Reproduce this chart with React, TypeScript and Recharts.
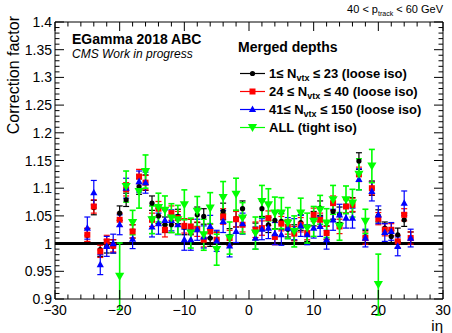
import React from "react";
import {
  ComposedChart,
  Scatter,
  XAxis,
  YAxis,
  ErrorBar,
  ReferenceLine,
} from "recharts";

const etaBins = [
  -25, -24, -23, -22, -21, -20, -19, -18, -17, -16, -15, -14, -13, -12, -11,
  -10, -9, -8, -7, -6, -5, -4, -3, -2, -1, 1, 2, 3, 4, 5, 6, 7, 8, 9, 10, 11,
  12, 13, 14, 15, 16, 17, 18, 19, 20, 21, 22, 23, 24, 25,
];
const tightBins = [
  -20, -19, -18, -17, -16, -15, -14, -13, -12, -11, -10, -9, -8, -7, -6, -5,
  -4, -3, -2, -1, 1, 2, 3, 4, 5, 6, 7, 8, 9, 10, 11, 12, 13, 14, 15, 16, 17,
  18, 19, 20,
];

// 1 <= Nvtx <= 23 (loose iso)
const lowPuValues = [
  1.015, 1.065, 0.989, 0.995, 0.995, 1.055, 1.079, 1.022, 1.103, 1.11, 1.073,
  1.05, 1.034, 1.034, 1.049, 1.03, 1.03, 1.052, 1.049, 1.01, 1.007, 1.058,
  1.012, 1.045, 1.063, 1.022, 1.063, 1.034, 1.042, 1.04, 1.026, 1.02, 1.038,
  1.017, 1.045, 1.064, 1.02, 1.058, 1.052, 1.068, 1.07, 1.149, 1.012, 1.1,
  1.05, 1.028, 1.013, 1.016, 1.043, 1.01,
];
const lowPuErrors = [
  0.012, 0.013, 0.012, 0.012, 0.012, 0.013, 0.012, 0.012, 0.014, 0.014, 0.013,
  0.014, 0.014, 0.014, 0.013, 0.014, 0.014, 0.014, 0.014, 0.015, 0.014, 0.015,
  0.015, 0.015, 0.014, 0.015, 0.014, 0.014, 0.015, 0.014, 0.014, 0.014, 0.014,
  0.013, 0.013, 0.013, 0.012, 0.014, 0.014, 0.013, 0.013, 0.015, 0.012, 0.013,
  0.011, 0.011, 0.011, 0.012, 0.012, 0.011,
];

// 24 <= Nvtx <= 40 (loose iso)
const midPuValues = [
  1.016, 1.067, 0.986, 1.004, 0.996, 1.043, 1.098, 1.022, 1.121, 1.11, 1.043,
  1.063, 1.025, 1.055, 1.046, 1.032, 1.031, 1.026, 1.007, 1.022, 1.007, 1.049,
  1.01, 1.044, 1.034, 1.025, 1.028, 1.046, 1.012, 1.036, 1.03, 1.018, 1.034,
  1.019, 1.052, 1.043, 1.019, 1.073, 1.031, 1.067, 1.07, 1.125, 1.01, 1.1,
  1.045, 1.025, 1.025, 1.004, 1.052, 1.01,
];
const midPuErrors = [
  0.012, 0.012, 0.011, 0.011, 0.011, 0.012, 0.012, 0.012, 0.013, 0.013, 0.012,
  0.013, 0.013, 0.013, 0.012, 0.013, 0.013, 0.013, 0.013, 0.013, 0.013, 0.014,
  0.014, 0.014, 0.013, 0.014, 0.013, 0.013, 0.014, 0.013, 0.013, 0.013, 0.013,
  0.012, 0.012, 0.012, 0.012, 0.013, 0.013, 0.012, 0.012, 0.013, 0.011, 0.012,
  0.011, 0.011, 0.011, 0.011, 0.011, 0.011,
];

// 41 <= Nvtx <= 150 (loose iso)
const highPuValues = [
  1.028, 1.092, 0.962, 0.995, 1.0, 1.034, 1.1, 1.008, 1.112, 1.11, 1.03, 1.036,
  1.042, 1.042, 1.034, 1.007, 1.007, 1.025, 1.012, 1.031, 1.005, 1.04, 0.996,
  1.022, 1.036, 1.01, 1.026, 1.028, 1.018, 1.016, 1.028, 1.026, 1.032, 1.016,
  1.028, 1.031, 1.007, 1.043, 1.052, 1.046, 1.046, 1.116, 1.01, 1.094, 1.052,
  1.02, 1.022, 0.995, 1.073, 1.01,
];
const highPuErrors = [
  0.02, 0.022, 0.018, 0.018, 0.017, 0.018, 0.018, 0.017, 0.019, 0.019, 0.018,
  0.019, 0.019, 0.019, 0.018, 0.019, 0.019, 0.019, 0.02, 0.02, 0.019, 0.02,
  0.02, 0.02, 0.019, 0.02, 0.019, 0.019, 0.02, 0.019, 0.019, 0.019, 0.019,
  0.018, 0.018, 0.018, 0.017, 0.019, 0.019, 0.018, 0.018, 0.019, 0.016, 0.017,
  0.016, 0.016, 0.016, 0.017, 0.022, 0.016,
];

// ALL (tight iso)
const tightValues = [
  0.941, 1.103, 1.038, 1.094, 1.13, 1.043, 1.065, 1.06, 1.046, 1.043, 1.07,
  1.019, 1.058, 1.016, 1.064, 0.989, 1.083, 1.01, 1.089, 1.046, 1.019, 1.076,
  1.07, 1.055, 1.055, 1.037, 1.022, 1.055, 1.028, 1.04, 1.061, 1.037, 1.079,
  1.031, 1.079, 1.073, 1.125, 1.04, 1.14, 0.926,
];
const tightErrors = [
  0.06, 0.028, 0.022, 0.03, 0.03, 0.025, 0.026, 0.026, 0.026, 0.026, 0.027,
  0.027, 0.027, 0.028, 0.028, 0.028, 0.029, 0.029, 0.029, 0.028, 0.029, 0.029,
  0.029, 0.029, 0.028, 0.028, 0.028, 0.027, 0.027, 0.027, 0.026, 0.026, 0.026,
  0.025, 0.025, 0.025, 0.028, 0.022, 0.03, 0.055,
];

const xMajorTicks = [-30, -20, -10, 0, 10, 20, 30];
const yMajorTicks = [0.9, 0.95, 1, 1.05, 1.1, 1.15, 1.2, 1.25, 1.3, 1.35, 1.4];

const xTicks: number[] = [];
for (let v = -30; v <= 30; v += 2) xTicks.push(v);
const yTicks: number[] = [];
for (let i = 90; i <= 140; i++) yTicks.push(i / 100);

const font = "'Liberation Sans', Arial, sans-serif";

const toPoints = (bins: number[], vals: number[], errs: number[]) =>
  bins.map((x, i) => ({ x, y: vals[i], err: errs[i] }));

const lowPu = toPoints(etaBins, lowPuValues, lowPuErrors);
const midPu = toPoints(etaBins, midPuValues, midPuErrors);
const highPu = toPoints(etaBins, highPuValues, highPuErrors);
const tight = toPoints(tightBins, tightValues, tightErrors);

const fmt = (v: number) => {
  const s = String(Math.round(v * 100) / 100);
  return s.startsWith("-") ? "\u2212" + s.slice(1) : s;
};
const isMajorY = (v: number) =>
  yMajorTicks.some((m) => Math.abs(m - v) < 1e-6);

const Circle = (p: any) => <circle cx={p.cx} cy={p.cy} r={2.6} fill="#000" />;
const Square = (p: any) => (
  <rect x={p.cx - 3} y={p.cy - 3} width={6} height={6} fill="#ff0000" />
);
const TriUp = (p: any) => (
  <path
    d={`M${p.cx},${p.cy - 4}L${p.cx + 3.6},${p.cy + 2.6}L${p.cx - 3.6},${p.cy + 2.6}Z`}
    fill="#0000ff"
  />
);
const TriDown = (p: any) => (
  <path
    d={`M${p.cx},${p.cy + 4.5}L${p.cx + 4.6},${p.cy - 3.6}L${p.cx - 4.6},${p.cy - 3.6}Z`}
    fill="#00ff00"
  />
);

function BottomTick({ x, y, payload }: any) {
  const major = xMajorTicks.includes(payload.value);
  return (
    <g>
      <line x1={x} x2={x} y1={y} y2={y - (major ? 9 : 4.5)} stroke="#000" />
      {major && (
        <text x={x} y={y + 16} textAnchor="middle" fontSize={14} fontFamily={font} fill="#000">
          {fmt(payload.value)}
        </text>
      )}
    </g>
  );
}

function TopTick({ x, y, payload }: any) {
  const major = xMajorTicks.includes(payload.value);
  return <line x1={x} x2={x} y1={y} y2={y + (major ? 9 : 4.5)} stroke="#000" />;
}

function LeftTick({ x, y, payload }: any) {
  const major = isMajorY(payload.value);
  return (
    <g>
      <line x1={x} x2={x + (major ? 9 : 4.5)} y1={y} y2={y} stroke="#000" />
      {major && (
        <text x={x - 3} y={y + 5} textAnchor="end" fontSize={14} fontFamily={font} fill="#000">
          {fmt(payload.value)}
        </text>
      )}
    </g>
  );
}

function RightTick({ x, y, payload }: any) {
  const major = isMajorY(payload.value);
  return <line x1={x} x2={x - (major ? 9 : 4.5)} y1={y} y2={y} stroke="#000" />;
}

function LegendRow({ y, color, marker, children }: any) {
  return (
    <g>
      <line x1={240} x2={265} y1={y - 4.5} y2={y - 4.5} stroke={color} strokeWidth={1.2} />
      {marker({ cx: 252.5, cy: y - 4.5 })}
      <text x={269} y={y} fontSize={13} fontWeight="bold" fontFamily={font} fill="#000">
        {children}
      </text>
    </g>
  );
}

const Sub = ({ children }: any) => (
  <>
    <tspan fontSize={9} dy={3}>{children}</tspan>
    <tspan dy={-3}> </tspan>
  </>
);

export default function App() {
  return (
    <div style={{ position: "absolute", left: 0, top: 0, width: 452, height: 333, background: "#fff" }}>
      <ComposedChart width={452} height={333} margin={{ top: 0, right: 0, bottom: 0, left: 0 }}>
        <XAxis
          dataKey="x"
          type="number"
          domain={[-30, 30]}
          ticks={xTicks}
          interval={0}
          tickSize={0}
          tickMargin={0}
          height={34}
          axisLine={{ stroke: "#000" }}
          tick={<BottomTick />}
          allowDataOverflow
        />
        <XAxis
          xAxisId="top"
          dataKey="x"
          type="number"
          orientation="top"
          domain={[-30, 30]}
          ticks={xTicks}
          interval={0}
          tickSize={0}
          tickMargin={0}
          height={22}
          axisLine={{ stroke: "#000" }}
          tick={<TopTick />}
          allowDataOverflow
        />
        <YAxis
          dataKey="y"
          type="number"
          domain={[0.9, 1.4]}
          ticks={yTicks}
          interval={0}
          tickSize={0}
          tickMargin={0}
          width={55}
          axisLine={{ stroke: "#000" }}
          tick={<LeftTick />}
          allowDataOverflow
        />
        <YAxis
          yAxisId="right"
          dataKey="y"
          type="number"
          orientation="right"
          domain={[0.9, 1.4]}
          ticks={yTicks}
          interval={0}
          tickSize={0}
          tickMargin={0}
          width={9}
          axisLine={{ stroke: "#000" }}
          tick={<RightTick />}
          allowDataOverflow
        />
        <ReferenceLine y={1} stroke="#000" strokeWidth={3} />
        <Scatter data={lowPu} shape={Circle} isAnimationActive={false}>
          <ErrorBar dataKey="err" direction="y" width={3} stroke="#000" strokeWidth={1.2} isAnimationActive={false} />
        </Scatter>
        <Scatter data={midPu} shape={Square} isAnimationActive={false}>
          <ErrorBar dataKey="err" direction="y" width={3} stroke="#ff0000" strokeWidth={1.2} isAnimationActive={false} />
        </Scatter>
        <Scatter data={highPu} shape={TriUp} isAnimationActive={false}>
          <ErrorBar dataKey="err" direction="y" width={3} stroke="#0000ff" strokeWidth={1.2} isAnimationActive={false} />
        </Scatter>
        <Scatter data={tight} shape={TriDown} isAnimationActive={false}>
          <ErrorBar dataKey="err" direction="y" width={3} stroke="#00ff00" strokeWidth={1.6} isAnimationActive={false} />
        </Scatter>
      </ComposedChart>

      <svg
        width={452}
        height={333}
        style={{ position: "absolute", left: 0, top: 0, pointerEvents: "none" }}
        fontFamily={font}
      >
        <text x={443} y={13} textAnchor="end" fontSize={11} fill="#000">
          40 &lt; p<tspan fontSize={7} dy={3}>track</tspan>
          <tspan dy={-3}> &lt; 60 GeV</tspan>
        </text>
        <text transform="rotate(-90)" x={-16} y={19} textAnchor="end" fontSize={16} fill="#000">
          Correction factor
        </text>
        <text x={443} y={331} textAnchor="end" fontSize={15} fill="#000">
          iη
        </text>
        <text x={72} y={44} fontSize={14} fontWeight="bold" fill="#000">
          EGamma 2018 ABC
        </text>
        <text x={72} y={58} fontSize={12} fontStyle="italic" fill="#000">
          CMS Work in progress
        </text>
        <text x={238} y={52} fontSize={14} fontWeight="bold" fill="#000">
          Merged depths
        </text>
        <LegendRow y={78} color="#000" marker={Circle}>
          1≤ N<Sub>vtx</Sub>≤ 23 (loose iso)
        </LegendRow>
        <LegendRow y={96} color="#ff0000" marker={Square}>
          24 ≤ N<Sub>vtx</Sub>≤ 40 (loose iso)
        </LegendRow>
        <LegendRow y={114} color="#0000ff" marker={TriUp}>
          41≤ N<Sub>vtx</Sub>≤ 150 (loose iso)
        </LegendRow>
        <LegendRow y={132} color="#00ff00" marker={TriDown}>
          ALL (tight iso)
        </LegendRow>
      </svg>
    </div>
  );
}
